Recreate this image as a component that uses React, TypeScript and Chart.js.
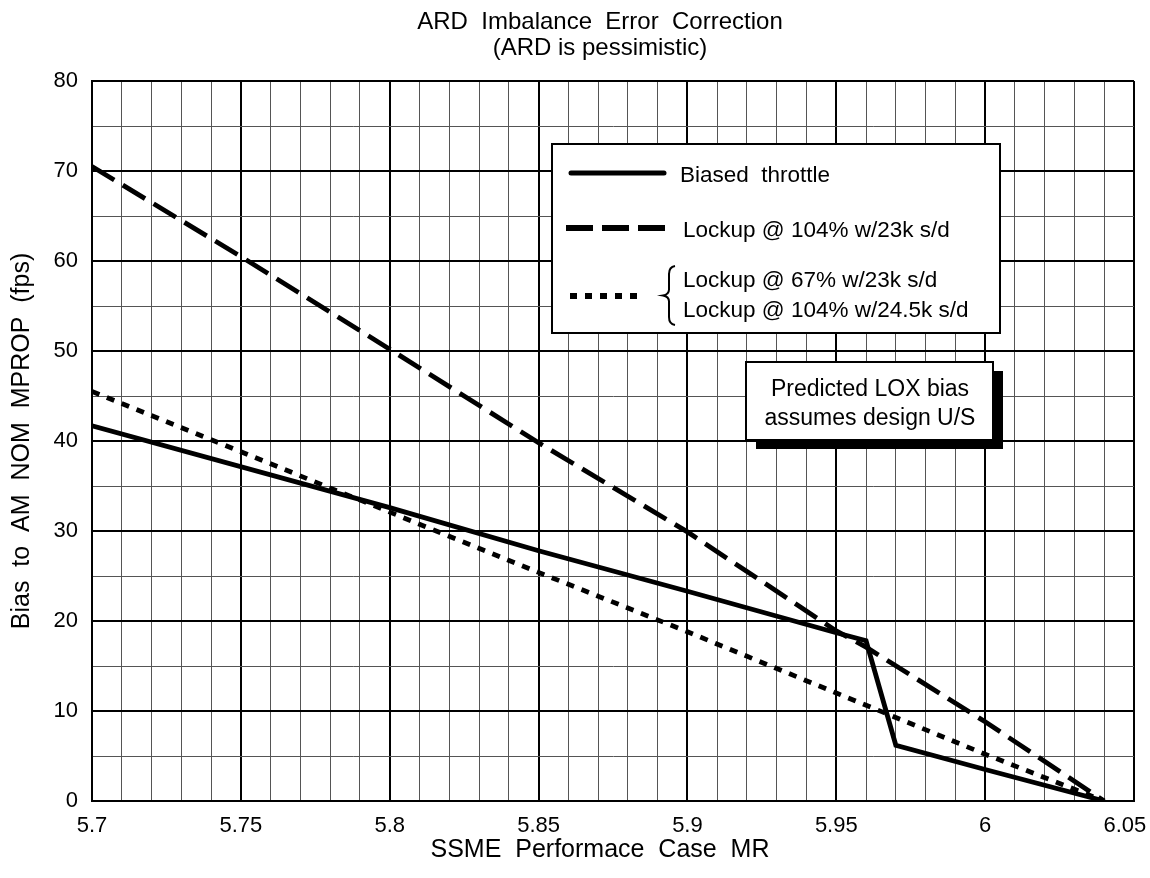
import React, { useEffect, useRef } from "react";
import { Chart, registerables } from "chart.js";

Chart.register(...registerables);

// ---- Data ----
const xTickLabels = ["5.7", "5.75", "5.8", "5.85", "5.9", "5.95", "6", "6.05"];
const yTickLabels = ["0", "10", "20", "30", "40", "50", "60", "70", "80"];

const biasedX = [5.7, 5.8, 5.85, 5.9, 5.95, 5.96, 5.97, 6.0, 6.04];
const biasedY = [41.7, 32.6, 27.8, 23.3, 18.7, 17.8, 6.2, 3.5, 0];

const lockup104X = [5.7, 5.75, 5.8, 5.85, 5.9, 5.95, 5.96, 6.0, 6.04];
const lockup104Y = [70.5, 60.5, 50.2, 39.8, 29.9, 18.9, 17.1, 8.8, 0];

const lockupAltX = [5.7, 5.75, 5.8, 5.85, 5.9, 5.95, 6.0, 6.04];
const lockupAltY = [45.5, 38.8, 32.1, 25.4, 18.8, 12.0, 5.2, 0];

const titleLines = ["ARD  Imbalance  Error  Correction", "(ARD is pessimistic)"];
const xTitle = "SSME  Performace  Case  MR";
const yTitle = "Bias  to  AM  NOM  MPROP  (fps)";
const seriesNames = [
  "Biased  throttle",
  "Lockup @ 104% w/23k s/d",
  "Lockup @ 67% w/23k s/d",
  "Lockup @ 104% w/24.5k s/d",
];
const noteLines = ["Predicted LOX bias", "assumes design U/S"];

const FONT = "'Liberation Sans', Arial, Helvetica, sans-serif";

const zip = (xs: number[], ys: number[]) => xs.map((x, i) => ({ x, y: ys[i] }));

const overlayPlugin = {
  id: "overlayLegend",
  afterDraw(chart: any) {
    const { ctx, chartArea: a } = chart;
    const L = a.left;
    const T = a.top;
    ctx.save();

    // Titles
    ctx.fillStyle = "#000";
    ctx.textAlign = "center";
    ctx.textBaseline = "middle";
    ctx.font = `24px ${FONT}`;
    ctx.fillText(titleLines[0], 600, 22);
    ctx.fillText(titleLines[1], 600, 48);
    // x axis title
    ctx.font = `25px ${FONT}`;
    ctx.fillText(xTitle, 600, 850);

    // Legend box
    ctx.fillStyle = "#fff";
    ctx.fillRect(L + 460, T + 63, 448, 189);
    ctx.lineWidth = 2;
    ctx.strokeStyle = "#000";
    ctx.strokeRect(L + 460, T + 63, 448, 189);

    // solid sample
    ctx.lineWidth = 5;
    ctx.setLineDash([]);
    ctx.lineCap = "round";
    ctx.beginPath();
    ctx.moveTo(L + 479, T + 92);
    ctx.lineTo(L + 572, T + 92);
    ctx.stroke();
    ctx.lineCap = "butt";
    // dashed sample
    ctx.lineWidth = 6;
    ctx.setLineDash([27, 9]);
    ctx.beginPath();
    ctx.moveTo(L + 474, T + 147);
    ctx.lineTo(L + 573, T + 147);
    ctx.stroke();
    // dotted sample
    ctx.setLineDash([7, 8]);
    ctx.beginPath();
    ctx.moveTo(L + 478, T + 215);
    ctx.lineTo(L + 550, T + 215);
    ctx.stroke();
    ctx.setLineDash([]);

    // brace
    const bx = L + 577;
    const by0 = T + 185;
    const by1 = T + 244;
    const bm = (by0 + by1) / 2;
    ctx.lineWidth = 2;
    ctx.beginPath();
    ctx.moveTo(bx + 6, by0);
    ctx.quadraticCurveTo(bx, by0 + 1, bx, by0 + 8);
    ctx.lineTo(bx, bm - 6);
    ctx.quadraticCurveTo(bx, bm - 1, bx - 6, bm);
    ctx.quadraticCurveTo(bx, bm + 1, bx, bm + 6);
    ctx.lineTo(bx, by1 - 8);
    ctx.quadraticCurveTo(bx, by1 - 1, bx + 6, by1);
    ctx.stroke();

    ctx.fillStyle = "#000";
    ctx.font = `22.5px ${FONT}`;
    ctx.textBaseline = "middle";
    ctx.textAlign = "left";
    ctx.fillText(seriesNames[0], L + 588, T + 95);
    ctx.fillText(seriesNames[1], L + 591, T + 150);
    ctx.fillText(seriesNames[2], L + 591, T + 200);
    ctx.fillText(seriesNames[3], L + 591, T + 230);

    // Note box with shadow
    ctx.fillStyle = "#000";
    ctx.fillRect(L + 664, T + 290, 247, 78);
    ctx.fillStyle = "#fff";
    ctx.fillRect(L + 654, T + 281, 247, 78);
    ctx.lineWidth = 2;
    ctx.strokeRect(L + 654, T + 281, 247, 78);
    ctx.fillStyle = "#000";
    ctx.textAlign = "center";
    ctx.font = `23px ${FONT}`;
    ctx.fillText(noteLines[0], L + 778, T + 309);
    ctx.fillText(noteLines[1], L + 778, T + 338);
    ctx.restore();
  },
};

export default function App() {
  const canvasRef = useRef<HTMLCanvasElement | null>(null);

  useEffect(() => {
    document.body.style.margin = "0";
    document.body.style.overflow = "hidden";
    const canvas = canvasRef.current;
    if (!canvas) return;

    const lineStyle = { borderColor: "#000", borderWidth: 4.8, pointRadius: 0, tension: 0, fill: false };

    const chart = new Chart(canvas, {
      type: "line",
      data: {
        datasets: [
          { label: seriesNames[0], data: zip(biasedX, biasedY), ...lineStyle },
          { label: seriesNames[1], data: zip(lockup104X, lockup104Y), ...lineStyle, borderDash: [26, 10] },
          { label: seriesNames[2], data: zip(lockupAltX, lockupAltY), ...lineStyle, borderDash: [8, 8] },
        ],
      },
      options: {
        animation: false,
        responsive: false,
        devicePixelRatio: 1,
        layout: { padding: { top: 81, left: 0, right: 16, bottom: 0 } },
        plugins: {
          legend: { display: false },
          tooltip: { enabled: false },
          title: { display: false },
        },
        scales: {
          x: {
            type: "linear",
            min: 5.7,
            max: 6.05,
            afterFit: (scale: any) => {
              scale.height = 77;
              scale.paddingLeft = 0;
              scale.paddingRight = 0;
            },
            ticks: {
              stepSize: 0.01,
              autoSkip: false,
              maxRotation: 0,
              padding: 12,
              color: "#000",
              font: { size: 22, family: FONT },
              callback: (value: any) => {
                const k = Math.round((Number(value) - 5.7) * 100);
                if (k % 5 !== 0) return "";
                const lbl = xTickLabels[k / 5];
                return k / 5 === xTickLabels.length - 1 ? lbl + "   " : lbl;
              },
            },
            grid: {
              drawTicks: false,
              color: (c: any) => {
                const k = Math.round((c.tick ? c.tick.value - 5.7 : 0) * 100);
                return k % 5 === 0 ? "#000" : "#555";
              },
              lineWidth: (c: any) => {
                const k = Math.round((c.tick ? c.tick.value - 5.7 : 0) * 100);
                return k % 5 === 0 ? 2 : 1;
              },
            },
            border: { display: true, color: "#000", width: 2 },
            title: { display: false },
          },
          y: {
            type: "linear",
            min: 0,
            max: 80,
            afterFit: (scale: any) => {
              scale.width = 92;
              scale.paddingTop = 0;
              scale.paddingBottom = 0;
            },
            ticks: {
              stepSize: 5,
              autoSkip: false,
              padding: 14,
              color: "#000",
              font: { size: 22, family: FONT },
              callback: (value: any) => {
                const k = Math.round(Number(value) / 5);
                return k % 2 === 0 ? yTickLabels[k / 2] : "";
              },
            },
            grid: {
              drawTicks: false,
              color: (c: any) => {
                const k = Math.round((c.tick ? c.tick.value : 0) / 5);
                return k % 2 === 0 ? "#000" : "#555";
              },
              lineWidth: (c: any) => {
                const k = Math.round((c.tick ? c.tick.value : 0) / 5);
                return k % 2 === 0 ? 2 : 1;
              },
            },
            border: { display: true, color: "#000", width: 2 },
            title: {
              display: true,
              text: yTitle,
              color: "#000",
              font: { size: 25, family: FONT, lineHeight: 1.2 },
              padding: { top: 7, bottom: 0 },
            },
          },
        },
      },
      plugins: [overlayPlugin],
    });

    return () => chart.destroy();
  }, []);

  return (
    <div style={{ width: 1150, height: 878 }}>
      <canvas ref={canvasRef} width={1150} height={878} style={{ display: "block" }} />
    </div>
  );
}
